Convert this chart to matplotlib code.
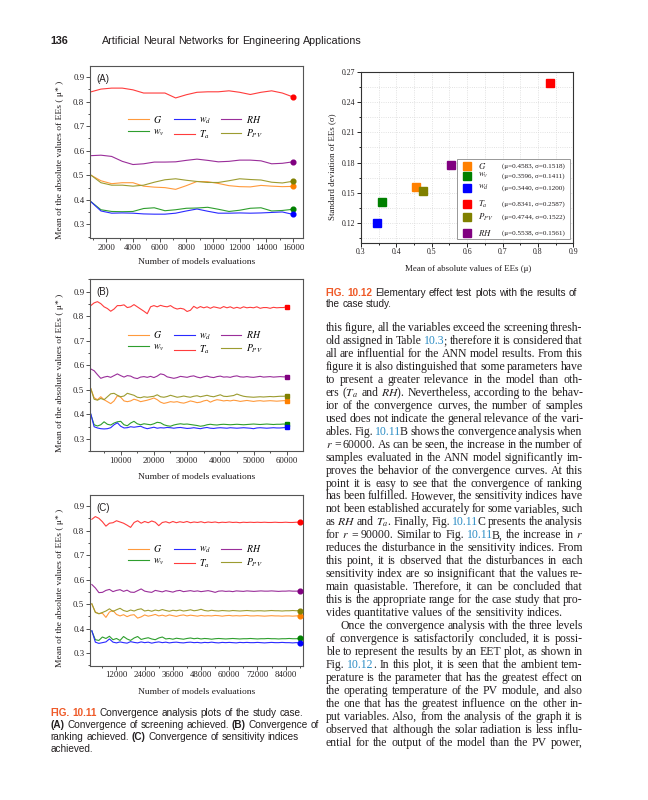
import re
import numpy as np
import matplotlib
matplotlib.use("Agg")
import matplotlib.pyplot as plt
from matplotlib.patches import Rectangle
from matplotlib.ticker import MultipleLocator

plt.rcParams["font.family"] = ["Liberation Serif", "DejaVu Serif"]
plt.rcParams["mathtext.fontset"] = "stix"

W, H = 648, 800

# ---------------- data: convergence curves (mean |EE|, mu*) ----------------
series_names = ["G", "wv", "wd", "Ta", "RH", "Ppv"]
series_labels = {"G": r"$G$", "wv": r"$w_v$", "wd": r"$w_d$",
                 "Ta": r"$T_a$", "RH": r"$RH$", "Ppv": r"$P_{PV}$"}

# (A) screening, r up to 16000
x_a = np.arange(800, 16001, 800)
a_G = [0.502, 0.478, 0.466, 0.470, 0.470, 0.456, 0.452, 0.450, 0.443, 0.458,
       0.475, 0.474, 0.467, 0.458, 0.454, 0.453, 0.459, 0.456, 0.454, 0.455]
a_wv = [0.395, 0.360, 0.353, 0.352, 0.353, 0.365, 0.368, 0.356, 0.360, 0.366,
        0.367, 0.370, 0.362, 0.353, 0.358, 0.366, 0.368, 0.355, 0.357, 0.362]
a_wd = [0.395, 0.355, 0.346, 0.347, 0.346, 0.343, 0.342, 0.342, 0.346, 0.355,
        0.363, 0.354, 0.346, 0.346, 0.347, 0.346, 0.347, 0.349, 0.351, 0.341]
a_Ta = [0.839, 0.851, 0.855, 0.855, 0.848, 0.835, 0.835, 0.835, 0.815, 0.828,
        0.838, 0.840, 0.840, 0.844, 0.838, 0.829, 0.838, 0.844, 0.835, 0.819]
a_RH = [0.580, 0.582, 0.577, 0.557, 0.544, 0.547, 0.554, 0.554, 0.555, 0.561,
        0.566, 0.561, 0.555, 0.557, 0.562, 0.562, 0.559, 0.547, 0.549, 0.555]
a_Ppv = [0.503, 0.470, 0.460, 0.460, 0.456, 0.460, 0.472, 0.482, 0.486, 0.480,
         0.475, 0.471, 0.471, 0.478, 0.486, 0.483, 0.481, 0.472, 0.469, 0.476]

# (B) ranking, r up to 60000
x_b = np.arange(1000, 60001, 1000)
b_Ta = [0.843, 0.854, 0.859, 0.851, 0.838, 0.831, 0.820, 0.829, 0.843, 0.843,
        0.846, 0.835, 0.838, 0.847, 0.838, 0.829, 0.820, 0.810, 0.838, 0.843,
        0.838, 0.844, 0.840, 0.838, 0.843, 0.834, 0.829, 0.832, 0.829, 0.819,
        0.824, 0.840, 0.832, 0.839, 0.834, 0.838, 0.832, 0.838, 0.835, 0.832,
        0.839, 0.834, 0.838, 0.832, 0.836, 0.832, 0.838, 0.834, 0.836, 0.834,
        0.838, 0.832, 0.835, 0.835, 0.832, 0.836, 0.834, 0.835, 0.835, 0.838]
b_RH = [0.585, 0.578, 0.562, 0.547, 0.552, 0.555, 0.551, 0.558, 0.565, 0.558,
        0.552, 0.558, 0.556, 0.549, 0.546, 0.552, 0.554, 0.551, 0.555, 0.550,
        0.556, 0.565, 0.562, 0.553, 0.550, 0.547, 0.550, 0.555, 0.553, 0.551,
        0.555, 0.557, 0.552, 0.549, 0.553, 0.556, 0.552, 0.550, 0.554, 0.556,
        0.552, 0.553, 0.551, 0.555, 0.557, 0.553, 0.552, 0.554, 0.552, 0.551,
        0.553, 0.555, 0.552, 0.553, 0.554, 0.552, 0.553, 0.554, 0.553, 0.553]
b_G = [0.505, 0.468, 0.460, 0.472, 0.460, 0.452, 0.444, 0.455, 0.476, 0.470,
       0.455, 0.452, 0.455, 0.462, 0.458, 0.452, 0.455, 0.458, 0.462, 0.467,
       0.460, 0.450, 0.445, 0.448, 0.452, 0.450, 0.452, 0.448, 0.446, 0.450,
       0.455, 0.452, 0.448, 0.450, 0.455, 0.458, 0.450, 0.456, 0.460, 0.458,
       0.455, 0.457, 0.455, 0.458, 0.456, 0.453, 0.455, 0.457, 0.455, 0.453,
       0.455, 0.456, 0.454, 0.455, 0.456, 0.455, 0.454, 0.455, 0.456, 0.456]
b_Ppv = [0.505, 0.462, 0.458, 0.465, 0.460, 0.472, 0.484, 0.486, 0.478, 0.472,
         0.475, 0.486, 0.482, 0.478, 0.470, 0.468, 0.472, 0.470, 0.472, 0.474,
         0.480, 0.472, 0.470, 0.473, 0.478, 0.474, 0.470, 0.472, 0.475, 0.472,
         0.470, 0.474, 0.476, 0.472, 0.475, 0.478, 0.474, 0.472, 0.476, 0.480,
         0.474, 0.473, 0.475, 0.477, 0.483, 0.478, 0.474, 0.472, 0.471, 0.470,
         0.471, 0.472, 0.471, 0.472, 0.473, 0.472, 0.473, 0.474, 0.474, 0.475]
b_wv = [0.400, 0.358, 0.353, 0.358, 0.370, 0.360, 0.357, 0.365, 0.370, 0.372,
        0.358, 0.354, 0.365, 0.372, 0.362, 0.358, 0.362, 0.360, 0.358, 0.362,
        0.368, 0.366, 0.358, 0.354, 0.352, 0.357, 0.360, 0.362, 0.360, 0.361,
        0.359, 0.357, 0.355, 0.352, 0.354, 0.358, 0.360, 0.358, 0.357, 0.359,
        0.360, 0.359, 0.358, 0.359, 0.360, 0.359, 0.358, 0.359, 0.360, 0.361,
        0.360, 0.359, 0.360, 0.361, 0.360, 0.359, 0.360, 0.360, 0.361, 0.360]
b_wd = [0.402, 0.350, 0.345, 0.342, 0.341, 0.342, 0.346, 0.358, 0.366, 0.352,
        0.345, 0.346, 0.350, 0.348, 0.350, 0.352, 0.346, 0.342, 0.345, 0.348,
        0.344, 0.346, 0.345, 0.347, 0.346, 0.344, 0.346, 0.347, 0.345, 0.343,
        0.344, 0.346, 0.344, 0.342, 0.345, 0.347, 0.344, 0.343, 0.345, 0.346,
        0.345, 0.344, 0.346, 0.345, 0.344, 0.345, 0.346, 0.345, 0.344, 0.342,
        0.345, 0.346, 0.345, 0.344, 0.345, 0.346, 0.345, 0.345, 0.346, 0.347]

# (C) sensitivity indices, r up to 90000
x_c = np.arange(1500, 90001, 1500)
c_Ta = [0.846, 0.857, 0.850, 0.836, 0.818, 0.830, 0.832, 0.840, 0.835, 0.830,
        0.822, 0.813, 0.833, 0.840, 0.830, 0.837, 0.832, 0.839, 0.834, 0.820,
        0.833, 0.836, 0.831, 0.837, 0.832, 0.836, 0.833, 0.837, 0.832, 0.835,
        0.833, 0.836, 0.832, 0.835, 0.833, 0.835, 0.832, 0.834, 0.833, 0.835,
        0.833, 0.834, 0.832, 0.834, 0.833, 0.834, 0.833, 0.834, 0.833, 0.834,
        0.833, 0.833, 0.834, 0.833, 0.833, 0.834, 0.833, 0.833, 0.834, 0.834]
c_RH = [0.580, 0.566, 0.547, 0.548, 0.556, 0.560, 0.551, 0.556, 0.559, 0.552,
        0.557, 0.549, 0.548, 0.555, 0.562, 0.553, 0.550, 0.548, 0.556, 0.553,
        0.550, 0.555, 0.552, 0.549, 0.554, 0.556, 0.551, 0.553, 0.555, 0.552,
        0.554, 0.551, 0.553, 0.555, 0.552, 0.548, 0.553, 0.554, 0.552, 0.553,
        0.551, 0.554, 0.553, 0.552, 0.554, 0.553, 0.552, 0.553, 0.554, 0.553,
        0.553, 0.554, 0.553, 0.552, 0.553, 0.553, 0.554, 0.553, 0.553, 0.553]
c_G = [0.500, 0.468, 0.461, 0.463, 0.446, 0.468, 0.474, 0.458, 0.452, 0.457,
       0.449, 0.455, 0.457, 0.443, 0.448, 0.456, 0.451, 0.454, 0.458, 0.452,
       0.455, 0.451, 0.456, 0.453, 0.450, 0.454, 0.456, 0.452, 0.455, 0.453,
       0.451, 0.454, 0.452, 0.453, 0.452, 0.454, 0.453, 0.451, 0.453, 0.454,
       0.452, 0.453, 0.452, 0.453, 0.454, 0.452, 0.452, 0.453, 0.452, 0.451,
       0.452, 0.453, 0.452, 0.452, 0.451, 0.452, 0.452, 0.451, 0.452, 0.452]
c_Ppv = [0.502, 0.466, 0.461, 0.466, 0.472, 0.481, 0.470, 0.477, 0.483, 0.474,
         0.470, 0.476, 0.472, 0.478, 0.481, 0.472, 0.475, 0.471, 0.476, 0.473,
         0.478, 0.474, 0.471, 0.475, 0.473, 0.476, 0.472, 0.474, 0.477, 0.473,
         0.475, 0.479, 0.474, 0.472, 0.475, 0.473, 0.472, 0.474, 0.473, 0.472,
         0.474, 0.473, 0.472, 0.473, 0.474, 0.473, 0.472, 0.473, 0.473, 0.472,
         0.473, 0.474, 0.473, 0.473, 0.472, 0.473, 0.473, 0.474, 0.473, 0.474]
c_wv = [0.390, 0.355, 0.352, 0.366, 0.360, 0.369, 0.355, 0.360, 0.352, 0.368,
        0.358, 0.352, 0.362, 0.368, 0.356, 0.360, 0.363, 0.358, 0.355, 0.362,
        0.366, 0.358, 0.360, 0.357, 0.361, 0.359, 0.357, 0.360, 0.362, 0.359,
        0.361, 0.358, 0.360, 0.359, 0.357, 0.359, 0.360, 0.359, 0.358, 0.359,
        0.360, 0.359, 0.358, 0.359, 0.359, 0.360, 0.359, 0.358, 0.359, 0.359,
        0.360, 0.359, 0.359, 0.358, 0.359, 0.359, 0.360, 0.359, 0.359, 0.360]
c_wd = [0.392, 0.345, 0.340, 0.343, 0.346, 0.358, 0.345, 0.342, 0.346, 0.343,
        0.341, 0.347, 0.344, 0.342, 0.346, 0.343, 0.345, 0.341, 0.344, 0.346,
        0.343, 0.345, 0.342, 0.344, 0.345, 0.343, 0.342, 0.344, 0.345, 0.343,
        0.344, 0.342, 0.344, 0.343, 0.345, 0.343, 0.342, 0.344, 0.343, 0.344,
        0.343, 0.342, 0.344, 0.343, 0.344, 0.343, 0.343, 0.344, 0.343, 0.342,
        0.343, 0.344, 0.343, 0.343, 0.344, 0.343, 0.343, 0.342, 0.343, 0.342]

# ---------------- data: EET plot (Fig. 10.12) ----------------
eet_names = ["G", "wv", "wd", "Ta", "Ppv", "RH"]
eet_mu = [0.455, 0.360, 0.344, 0.834, 0.474, 0.554]
eet_sigma = [0.156, 0.141, 0.120, 0.259, 0.152, 0.1775]
eet_stats = ["(\u03bc=0.4583, \u03c3=0.1518)", "(\u03bc=0.3596, \u03c3=0.1411)",
             "(\u03bc=0.3440, \u03c3=0.1200)", "(\u03bc=0.8341, \u03c3=0.2587)",
             "(\u03bc=0.4744, \u03c3=0.1522)", "(\u03bc=0.5538, \u03c3=0.1561)"]

line_colors = {"G": "#ff9a3c", "wv": "#2e9e2e", "wd": "#2a2aff",
               "Ta": "#ff3c3c", "RH": "#9a2e9a", "Ppv": "#9c9c30"}
dot_colors = {"G": "#ff8000", "wv": "#008000", "wd": "#0000ff",
              "Ta": "#ff0000", "RH": "#800080", "Ppv": "#808000"}

ink = "#231f20"
link_blue = "#2b8cc4"
fig_orange = "#ef5a28"

fig = plt.figure(figsize=(W / 100, H / 100), dpi=100)
renderer = fig.canvas.get_renderer()


def px_axes(left, top, right, bottom):
    return fig.add_axes([left / W, 1 - bottom / H, (right - left) / W, (bottom - top) / H])


def conv_panel(box, x, data, xlim, ylim, xmajor, xminor, marker, tag, legend_xy, ylab_y, xlab_y):
    ax = px_axes(*box)
    for nm in series_names:
        ax.plot(x, data[nm], color=line_colors[nm], lw=0.8, label=series_labels[nm])
    for nm in series_names:
        ax.plot(x[-1], data[nm][-1], marker, color=dot_colors[nm], ms=3.4, zorder=5)
    ax.set_xlim(*xlim)
    ax.set_ylim(*ylim)
    ax.xaxis.set_major_locator(MultipleLocator(xmajor))
    ax.xaxis.set_minor_locator(MultipleLocator(xminor))
    ax.yaxis.set_major_locator(MultipleLocator(0.1))
    ax.yaxis.set_minor_locator(MultipleLocator(0.05))
    ax.set_yticks(np.arange(0.3, 0.95, 0.1))
    ax.set_yticklabels(["0.3", "0.4", "0.5", "0.6", "0.7", "0.8", "0.9"])
    ax.tick_params(which="both", direction="out", top=False, right=False,
                   width=0.6, labelsize=6.3, pad=1.5, colors="#333333", labelcolor=ink)
    ax.tick_params(which="major", length=2.6)
    ax.tick_params(which="minor", length=1.5)
    for sp in ax.spines.values():
        sp.set_color("#555555")
        sp.set_linewidth(0.8)
    ax.legend(ncol=3, loc="center", bbox_to_anchor=legend_xy, frameon=False,
              fontsize=7, handlelength=2.1, handletextpad=0.45, columnspacing=1.0,
              labelspacing=0.25, borderpad=0)
    ax.text(0.03, 0.955, tag, transform=ax.transAxes, ha="left", va="top",
            fontsize=7, family="Liberation Sans", color=ink)
    fig.text(60 / W, 1 - ylab_y / H, "Mean of the absolute values of EEs ( \u03bc* )",
             rotation=90, ha="center", va="center", fontsize=6.8, color=ink)
    fig.text(196.7 / W, 1 - xlab_y / H, "Number of models evaluations",
             ha="center", va="center", fontsize=6.8, color=ink)
    return ax


data_a = dict(G=a_G, wv=a_wv, wd=a_wd, Ta=a_Ta, RH=a_RH, Ppv=a_Ppv)
data_b = dict(G=b_G, wv=b_wv, wd=b_wd, Ta=b_Ta, RH=b_RH, Ppv=b_Ppv)
data_c = dict(G=c_G, wv=c_wv, wd=c_wd, Ta=c_Ta, RH=c_RH, Ppv=c_Ppv)

conv_panel((90, 66, 303, 238), x_a, data_a, (780, 16750), (0.245, 0.945), 2000, 1000,
           "o", "(A)", (0.495, 0.642), 159.5, 262)
conv_panel((90, 279.3, 303, 451.3), x_b, data_b, (760, 64900), (0.25, 0.95), 10000, 5000,
           "s", "(B)", (0.495, 0.631), 373, 477)
conv_panel((90, 495, 303, 665.7), x_c, data_c, (720, 91400), (0.249, 0.945), 12000, 6000,
           "o", "(C)", (0.495, 0.639), 588, 692)

# ---------------- EET scatter ----------------
ax = px_axes(361, 72.3, 573.3, 242.7)
for nm, mu, sd in zip(eet_names, eet_mu, eet_sigma):
    ax.plot(mu, sd, "s", color=dot_colors[nm], ms=5.3, mec=dot_colors[nm], zorder=3)
ax.set_xlim(0.3, 0.9)
ax.set_ylim(0.10, 0.27)
ax.xaxis.set_major_locator(MultipleLocator(0.1))
ax.xaxis.set_minor_locator(MultipleLocator(0.05))
ax.set_yticks([0.12, 0.15, 0.18, 0.21, 0.24, 0.27])
ax.set_yticklabels(["0.12", "0.15", "0.18", "0.21", "0.24", "0.27"])
ax.yaxis.set_minor_locator(MultipleLocator(0.015))
ax.set_xticks([0.3, 0.4, 0.5, 0.6, 0.7, 0.8, 0.9])
ax.set_xticklabels(["0.3", "0.4", "0.5", "0.6", "0.7", "0.8", "0.9"])
ax.grid(which="both", color="#d8d8d8", ls=":", lw=0.6)
ax.set_axisbelow(True)
ax.tick_params(which="both", direction="out", top=False, right=False,
               width=0.6, labelsize=5.6, pad=1.2, labelcolor=ink)
ax.tick_params(which="major", length=2.6)
ax.tick_params(which="minor", length=1.5)
for sp in ax.spines.values():
    sp.set_color("#333333")
    sp.set_linewidth(0.8)

# legend box with statistics
ax.add_patch(Rectangle((0.451, 0.022), 0.533, 0.469, transform=ax.transAxes,
                       facecolor="white", edgecolor="#888888", lw=0.6, zorder=6))
row_y = [0.450, 0.393, 0.323, 0.226, 0.151, 0.057]
for nm, ry, st in zip(eet_names, row_y, eet_stats):
    ax.plot(0.498, ry, "s", color=dot_colors[nm], ms=5.3, transform=ax.transAxes,
            zorder=7, clip_on=False)
    ax.text(0.551, ry, series_labels[nm], transform=ax.transAxes, ha="left", va="center",
            fontsize=6.3, color=ink, zorder=7)
    ax.text(0.666, ry, st, transform=ax.transAxes, ha="left", va="center",
            fontsize=5.1, color=ink, zorder=7)

fig.text(331.7 / W, 1 - 167 / H, "Standard deviation of EEs (\u03c3)", rotation=90,
         ha="center", va="center", fontsize=6.4, color=ink)
fig.text(468 / W, 1 - 269 / H, "Mean of absolute values of EEs (\u03bc)",
         ha="center", va="center", fontsize=6.4, color=ink)


# ---------------- page text ----------------
def ink_width(s, size, family, weight):
    t = fig.text(0, 0, s, fontsize=size, family=family, weight=weight)
    w = t.get_window_extent(renderer).width
    t.remove()
    return w


def advance(s, size, family, weight):
    # pen advance of s: bracket it with "x" so side bearings cancel out
    return (ink_width("x" + s + "x", size, family, weight)
            - ink_width("xx", size, family, weight))


def parse_word(word):
    segs = []
    for part in re.split(r"(\{[^}]*\}|\[[^\]]*\]|\*\*[^*]+\*\*)", word):
        if not part:
            continue
        if part.startswith("{"):
            segs.append((part[1:-1], link_blue, "normal"))
        elif part.startswith("["):
            segs.append((part[1:-1], fig_orange, "bold"))
        elif part.startswith("**"):
            segs.append((part[2:-2], ink, "bold"))
        else:
            segs.append((part, ink, "normal"))
    return segs


def word_layout(segs, size, family):
    # small pull-back on later segments: pixel snapping of small text opens a visible gap
    offsets = []
    x = 0.0
    for j, (s, c, wt) in enumerate(segs):
        offsets.append(x - (0.7 if j > 0 else 0.0))
        x += advance(s, size, family, wt)
    return offsets, x


def measure(line, size, family):
    words = [parse_word(w) for w in line.split()]
    layouts = [word_layout(segs, size, family) for segs in words]
    space = advance(" ", size, family, "normal")
    return words, layouts, space


def natural_width(line, size, family):
    words, layouts, space = measure(line, size, family)
    return sum(t for o, t in layouts) + space * (len(words) - 1)


def put_line(line, x0, baseline, size, family, x1=None):
    words, layouts, gap = measure(line, size, family)
    totals = [t for o, t in layouts]
    if x1 is not None and len(words) > 1:
        gap = (x1 - x0 - sum(totals)) / (len(words) - 1)
    x = x0
    for segs, (offsets, total) in zip(words, layouts):
        for (s, c, wt), off in zip(segs, offsets):
            fig.text((x + off) / W, 1 - baseline / H, s, fontsize=size, family=family,
                     color=c, weight=wt, va="baseline", ha="left")
        x += total + gap


def fit_size(line, target, family):
    return 10 * target / natural_width(line, 10, family)


sans = ["Liberation Sans", "DejaVu Sans"]
serif = ["Liberation Serif", "DejaVu Serif"]

# running head
head = "Artificial Neural Networks for Engineering Applications"
head_size = fit_size(head, 259, sans)
put_line("**136**", 50.7, 43.5, head_size, sans)
put_line(head, 101.7, 43.5, head_size, sans)

# captions
cap12 = ["[FIG.] [10.12] Elementary effect test plots with the results of",
         "the case study."]
cap_size = fit_size(cap12[0], 251, sans)
for i, ln in enumerate(cap12):
    put_line(ln, 325.7, 296 + i * 11.2, cap_size, sans)

cap11 = ["[FIG.] [10.11]  Convergence analysis plots of the study case.",
         "**(A)** Convergence of screening achieved. **(B)** Convergence of",
         "ranking achieved. **(C)** Convergence of sensitivity indices",
         "achieved."]
cap11_size = fit_size(cap11[0], 255.3, sans)
for i, ln in enumerate(cap11):
    put_line(ln, 50.7, 715.5 + i * 12.1, cap11_size, sans)

# body text (justified)
body = [
    "this figure, all the variables exceed the screening thresh-",
    "old assigned in Table {10.3}; therefore it is considered that",
    "all are influential for the ANN model results. From this",
    "figure it is also distinguished that some parameters have",
    "to present a greater relevance in the model than oth-",
    "ers ($T_a$ and $RH$). Nevertheless, according to the behav-",
    "ior of the convergence curves, the number of samples",
    "used does not indicate the general relevance of the vari-",
    "ables. Fig. {10.11}B shows the convergence analysis when",
    "$r$ = 60000. As can be seen, the increase in the number of",
    "samples evaluated in the ANN model significantly im-",
    "proves the behavior of the convergence curves. At this",
    "point it is easy to see that the convergence of ranking",
    "has been fulfilled. However, the sensitivity indices have",
    "not been established accurately for some variables, such",
    "as $RH$ and $T_a$. Finally, Fig. {10.11}C presents the analysis",
    "for $r$ = 90000. Similar to Fig. {10.11}B, the increase in $r$",
    "reduces the disturbance in the sensitivity indices. From",
    "this point, it is observed that the disturbances in each",
    "sensitivity index are so insignificant that the values re-",
    "main quasistable. Therefore, it can be concluded that",
    "this is the appropriate range for the case study that pro-",
    "vides quantitative values of the sensitivity indices.",
    "Once the convergence analysis with the three levels",
    "of convergence is satisfactorily concluded, it is possi-",
    "ble to represent the results by an EET plot, as shown in",
    "Fig. {10.12}. In this plot, it is seen that the ambient tem-",
    "perature is the parameter that has the greatest effect on",
    "the operating temperature of the PV module, and also",
    "the one that has the greatest influence on the other in-",
    "put variables. Also, from the analysis of the graph it is",
    "observed that although the solar radiation is less influ-",
    "ential for the output of the model than the PV power,",
]
body_size = fit_size(body[22], 238.3, serif)
for i, ln in enumerate(body):
    base = 328 + i * 12.96 + 3.0
    if i == 22:
        put_line(ln, 325.7, base, body_size, serif)
    elif i == 23:
        put_line(ln, 340.7, base, body_size, serif, x1=582.7)
    else:
        put_line(ln, 325.7, base, body_size, serif, x1=582.7)

fig.savefig("out.png", dpi=100, facecolor="white")
